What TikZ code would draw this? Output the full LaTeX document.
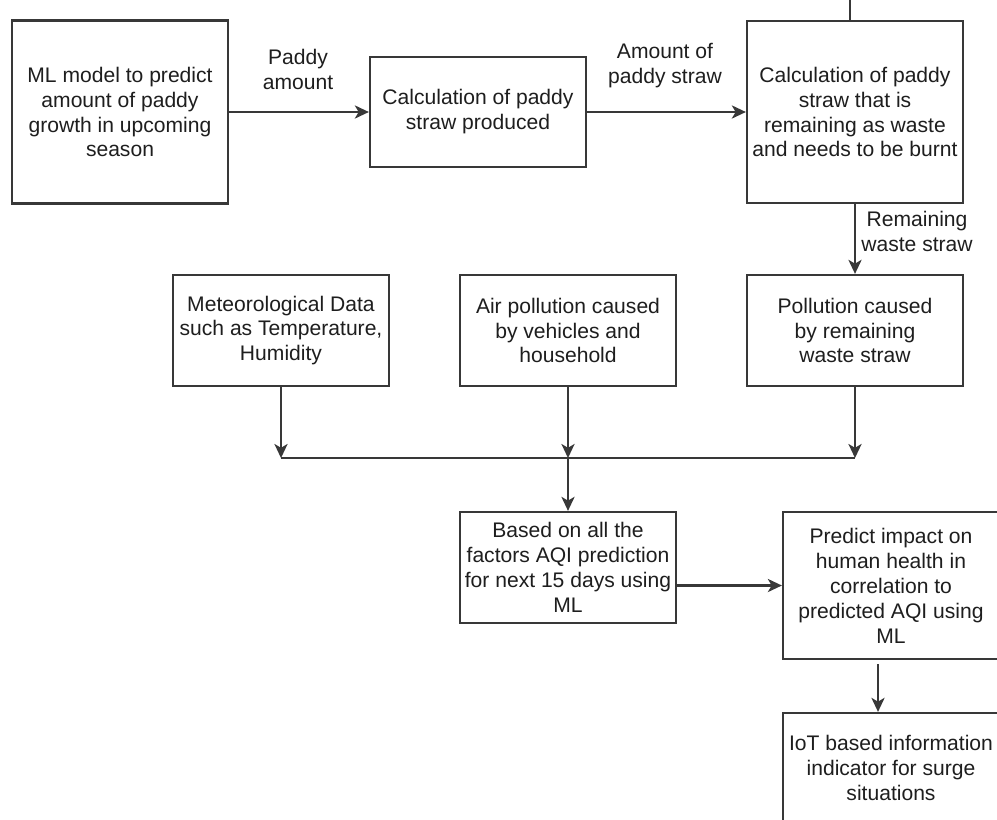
\documentclass[tikz,border=0pt]{standalone}
\usepackage{fontspec}
\setmainfont{Liberation Sans}
\usetikzlibrary{arrows.meta,positioning,calc}
\usepackage{xcolor}
\definecolor{Ink}{HTML}{1E1E1E}
\definecolor{Edge}{HTML}{383838}

\begin{document}
\begin{tikzpicture}[x=0.02cm,y=-0.02cm,>={Stealth[length=8pt,width=7.5pt,inset=2.2pt]},
  flowbox/.style={draw=Edge,line width=1.3pt,fill=white,inner sep=0pt,minimum width=4.32cm,align=center,text=Ink,font=\fontsize{12}{14.2}\selectfont},
  flowlabel/.style={align=center,inner sep=0pt,text=Ink,font=\fontsize{12}{14.2}\selectfont},
  flowline/.style={draw=Edge,line width=1.2pt}]
\useasboundingbox (0,0) rectangle (997,819);
\clip (0,0) rectangle (997,819);
% top row
\node[flowbox,minimum height=3.66cm] (ml) at (120,112) {ML model to predict\\amount of paddy\\growth in upcoming\\season};
\node[flowbox,minimum height=2.2cm] (calc) at (478,112) {Calculation of paddy\\straw produced};
\node[flowbox,minimum height=3.64cm] (waste) at (855,112) {Calculation of paddy\\straw that is\\remaining as waste\\and needs to be burnt};
% middle row
\node[flowbox,minimum height=2.22cm] (meteo) at (281,330.5) {Meteorological Data\\such as Temperature,\\Humidity};
\node[flowbox,minimum height=2.22cm] (air) at (568,330.5) {Air pollution caused\\by vehicles and\\household};
\node[flowbox,minimum height=2.22cm] (burn) at (855,330.5) {Pollution caused\\by remaining\\waste straw};
% bottom
\node[flowbox,minimum height=2.22cm] (aqi) at (568,567.5) {Based on all the\\factors AQI prediction\\for next 15 days using\\ML};
\node[flowbox,minimum height=2.94cm] (health) at (891,585.5) {Predict impact on\\human health in\\correlation to\\predicted AQI using\\ML};
\node[flowbox,minimum height=2.2cm] (iot) at (891,768) {IoT based information\\indicator for surge\\situations};
% edge labels
\node[flowlabel] (lpaddy) at (298,69) {Paddy\\amount};
\node[flowlabel] (lstraw) at (665,66) {Amount of\\paddy straw};
\node[flowlabel] (lremain) at (917,231) {Remaining\\waste straw};
% connectors
\coordinate (feed) at (850,0);
\draw[flowline] (feed) -- (feed |- waste.north);
\draw[flowline,->] (ml.east) -- (calc.west);
\draw[flowline,->] (calc.east) -- (waste.west);
\draw[flowline,->] (waste.south) -- (burn.north);
\coordinate (jleft) at (281,458);
\coordinate (jmid) at (568,458);
\coordinate (jright) at (855,458);
\draw[flowline,->] (meteo.south) -- (jleft);
\draw[flowline,->] (air.south) -- (jmid);
\draw[flowline,->] (burn.south) -- (jright);
\draw[flowline] (jleft) -- (jright);
\draw[flowline,->] (jmid) -- (aqi.north);
\draw[flowline,->] (aqi.east |- health.west) -- (health.west);
\draw[flowline,->] ([xshift=-0.26cm,yshift=-0.08cm]health.south) -- ([xshift=-0.26cm]iot.north);
\end{tikzpicture}
\end{document}
